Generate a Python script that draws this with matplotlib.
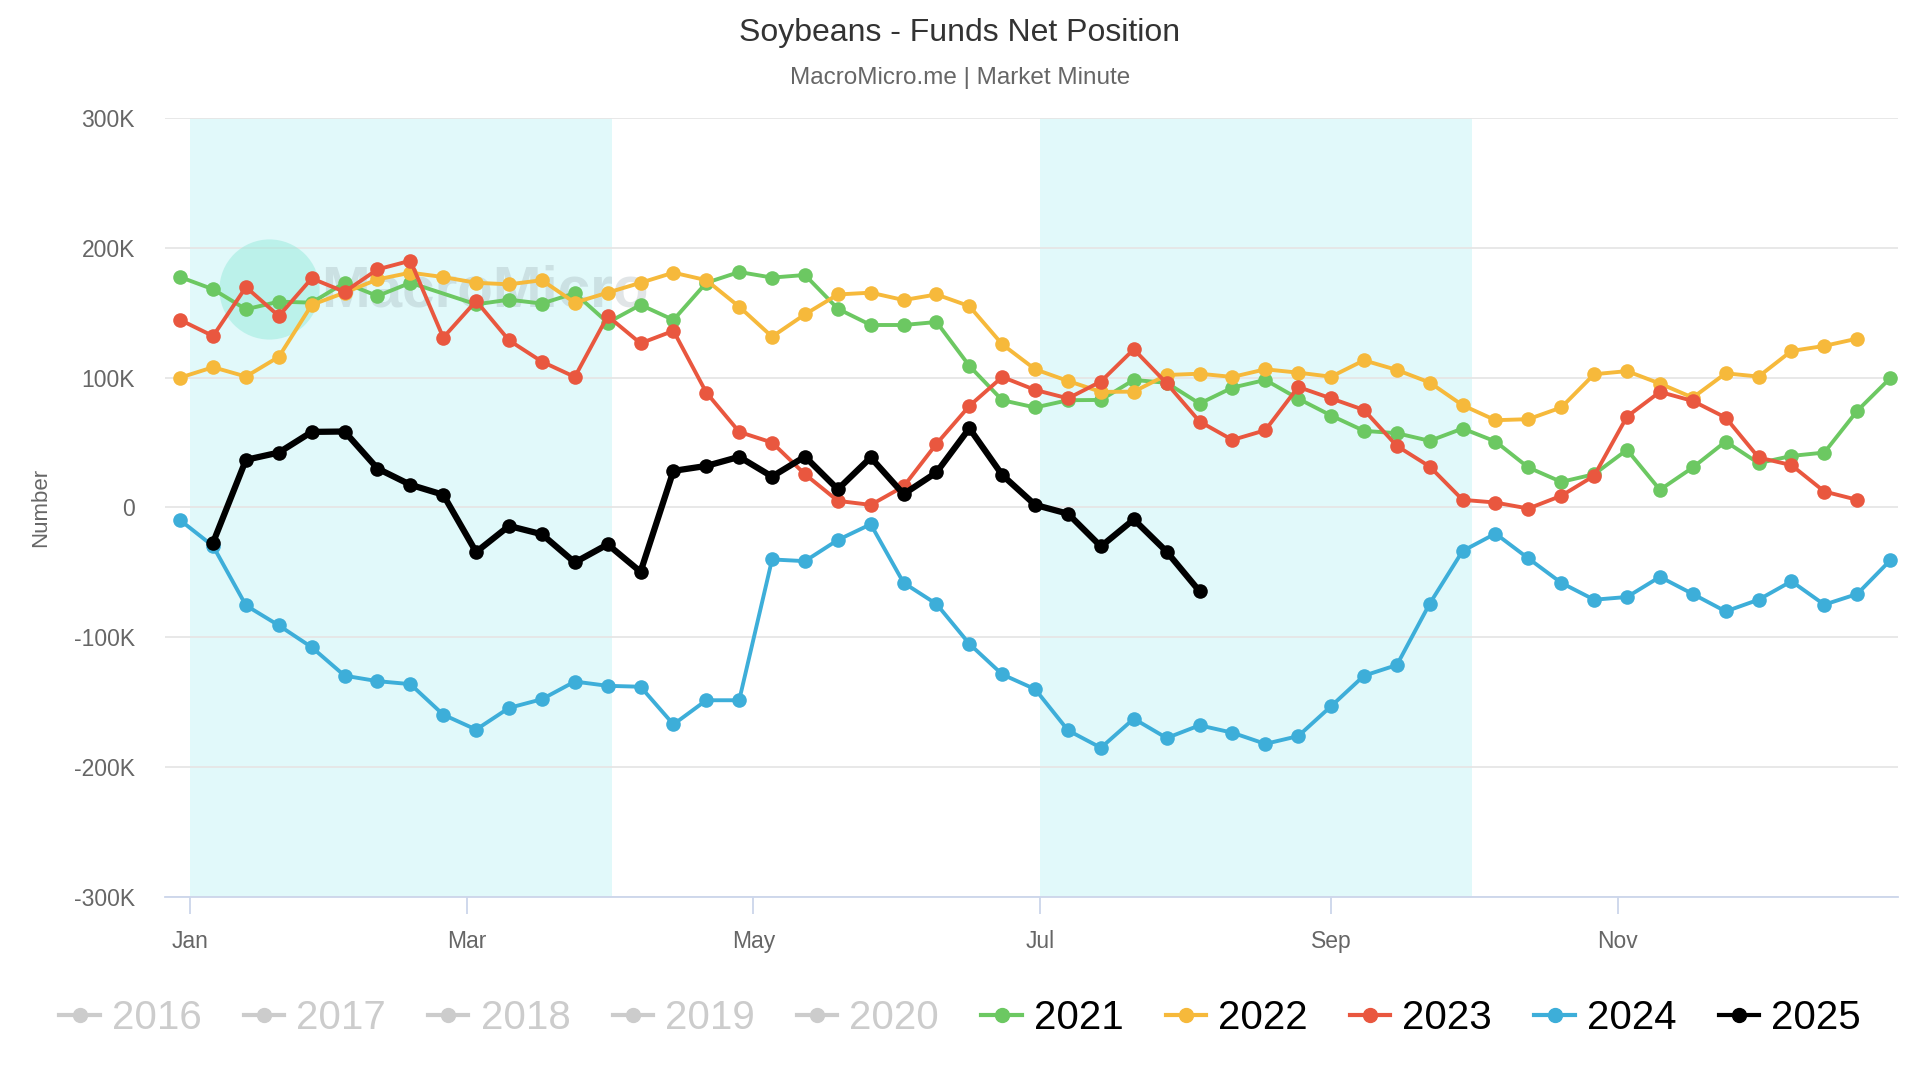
import numpy as np
import pandas as pd
import matplotlib
matplotlib.use("Agg")
import matplotlib.pyplot as plt
import matplotlib.dates as mdates
from matplotlib.lines import Line2D
from matplotlib.ticker import FuncFormatter

plt.rcParams["font.family"] = ["Liberation Sans", "DejaVu Sans"]

# weekly report dates, put onto one common calendar year
weeks = pd.date_range("2024-12-30", periods=53, freq="7D")

# funds net position, thousands of contracts
y2021 = [177.4, 168, 152.6, 158.5, 157.7, 173, 162.8, 173, np.nan, 156.4, 160, 157,
         165, 142.3, 156, 144.4, 173, 181.3, 177, 179, 153, 140.5, 140.5, 142.8,
         109, 82.6, 77, 82.6, 82.8, 98.2, 96, 80, 92.3, 98.2, 83.8, 70.8,
         59, 57.2, 51.3, 60.8, 50.8, 30.8, 19.7, 25.6, 44.4, 13.6, 30.8, 50.8,
         34.1, 39.7, 42.3, 74.4, 99.5]
y2022 = [100, 108, 100.8, 116, 156, 165.4, 175.6, 180.8, 177.4, 173, 171.8, 175,
         157.7, 165.4, 173, 180.8, 175, 154.6, 131.5, 148.7, 164, 165.4, 159.7, 164,
         155, 125.6, 106.4, 97.4, 89, 89.2, 102, 103, 100.5, 106.4, 103.8, 100.7,
         113.3, 105.9, 96.2, 78.7, 67.2, 68, 77, 102.6, 105, 95.4, 84.6, 103.3,
         100.8, 120.5, 124.4, 130]
y2023 = [144.4, 132, 169.7, 147.4, 176.4, 166, 183.3, 190, 130.8, 159, 128.7, 112.3,
         100.5, 147.4, 126.4, 136, 88.5, 58.2, 50, 25.6, 5.1, 2, 16.2, 49,
         78.2, 100.5, 90.5, 84, 97, 121.8, 95.6, 66.2, 52, 59.5, 92.8, 84,
         75.1, 47.4, 31.5, 5.9, 3.8, -0.8, 9, 24.4, 70, 89, 82, 69.2,
         38.5, 32.6, 12.3, 5.9]
y2024 = [-9.8, -29.7, -75.4, -90.8, -107.6, -129.5, -133.7, -136, -159.5, -171, -154.3, -147.6,
         -134, -137.3, -138, -167, -148.4, -148.4, -40, -41.3, -25, -12.9, -58, -74.3,
         -105, -128.5, -139.9, -171.6, -185, -162.6, -177.5, -167.7, -173.4, -182, -176, -153,
         -129.5, -121.3, -74, -33.5, -20.1, -39.2, -58, -71, -68.9, -53.4, -66.6, -80,
         -71, -56.8, -74.8, -66.6, -40.8]
y2025 = [np.nan, -27, 36.7, 42.3, 58.2, 58.5, 30, 17.5, 9.8, -34.3, -14.2, -20.6,
         -42.3, -28.4, -49.5, 28.2, 32, 39, 23.8, 39.2, 14, 38.5, 10.3, 27,
         61, 25, 2, -4.8, -30, -9.2, -34, -64.5]

years_hidden = ["2016", "2017", "2018", "2019", "2020"]
years_shown = ["2021", "2022", "2023", "2024", "2025"]
series = [y2021, y2022, y2023, y2024, y2025]
colors = ["#6cc862", "#f6b93b", "#e9573f", "#3daed9", "#000000"]

fig = plt.figure(figsize=(19.2, 10.8), dpi=100)
ax = fig.add_axes([0.0861, 0.1693, 0.9024, 0.7216])

# shaded quarters (Q1 and Q3)
ax.axvspan(pd.Timestamp("2025-01-01"), pd.Timestamp("2025-04-01"), color="#e1f9fa", zorder=0, lw=0)
ax.axvspan(pd.Timestamp("2025-07-01"), pd.Timestamp("2025-10-01"), color="#e1f9fa", zorder=0, lw=0)

for vals, col, name in zip(series, colors, years_shown):
    v = np.array(vals, dtype=float)
    x = weeks[:len(v)]
    ok = ~np.isnan(v)
    lw = 4.5 if name == "2025" else 2.8
    ax.plot(x[ok], v[ok] * 1000, color=col, lw=lw, marker="o", ms=10.5,
            markeredgewidth=0, zorder=3, solid_joinstyle="round")

# watermark
ax.scatter([pd.Timestamp("2025-01-18")], [168000], s=5200, color="#8ee8d8", alpha=0.45, zorder=1, lw=0)
ax.text(pd.Timestamp("2025-01-29"), 166000, "MacroMicro", fontsize=42, color="#8a9aa0",
        alpha=0.25, va="center", ha="left", zorder=2, fontweight="bold")

ax.set_ylim(-300000, 300000)
ax.set_yticks(np.arange(-300000, 300001, 100000))
ax.yaxis.set_major_formatter(FuncFormatter(lambda v, p: "0" if v == 0 else f"{int(v / 1000)}K"))
ax.set_xlim(pd.Timestamp("2024-12-26 20:00"), pd.Timestamp("2025-12-30 16:00"))
ax.xaxis.set_major_locator(mdates.MonthLocator(bymonth=[1, 3, 5, 7, 9, 11]))
ax.xaxis.set_major_formatter(mdates.DateFormatter("%b"))

ax.grid(axis="y", color="#e6e6e6", lw=1.3, zorder=0)
ax.set_axisbelow(True)
for s in ["top", "right", "left"]:
    ax.spines[s].set_visible(False)
ax.spines["bottom"].set_color("#ccd6eb")
ax.spines["bottom"].set_linewidth(1.3)
ax.tick_params(axis="y", length=0, pad=22, labelsize=16.5, labelcolor="#666666")
ax.tick_params(axis="x", length=12, width=1.3, color="#ccd6eb", pad=12, labelsize=16.5, labelcolor="#666666")
ax.set_ylabel("Number", fontsize=16, color="#666666", labelpad=16)

fig.text(0.5, 0.969, "Soybeans - Funds Net Position", ha="center", va="center", fontsize=23, color="#333333")
fig.text(0.5, 0.928, "MacroMicro.me | Market Minute", ha="center", va="center", fontsize=17.5, color="#666666")

# legend: older years greyed out as hidden
handles, labels = [], []
for yr in years_hidden:
    handles.append(Line2D([0], [0], color="#cccccc", lw=3, marker="o", ms=10))
    labels.append(yr)
for yr, col in zip(years_shown, colors):
    handles.append(Line2D([0], [0], color=col, lw=3, marker="o", ms=10))
    labels.append(yr)
leg = fig.legend(handles, labels, loc="center", bbox_to_anchor=(0.5, 0.057), ncol=10,
                 frameon=False, fontsize=29, handlelength=1.0, handletextpad=0.3,
                 columnspacing=1.05)
for t in leg.get_texts():
    t.set_color("#cccccc" if t.get_text() in years_hidden else "#000000")
    t.set_fontweight("medium")

fig.savefig("out.png", dpi=100)
